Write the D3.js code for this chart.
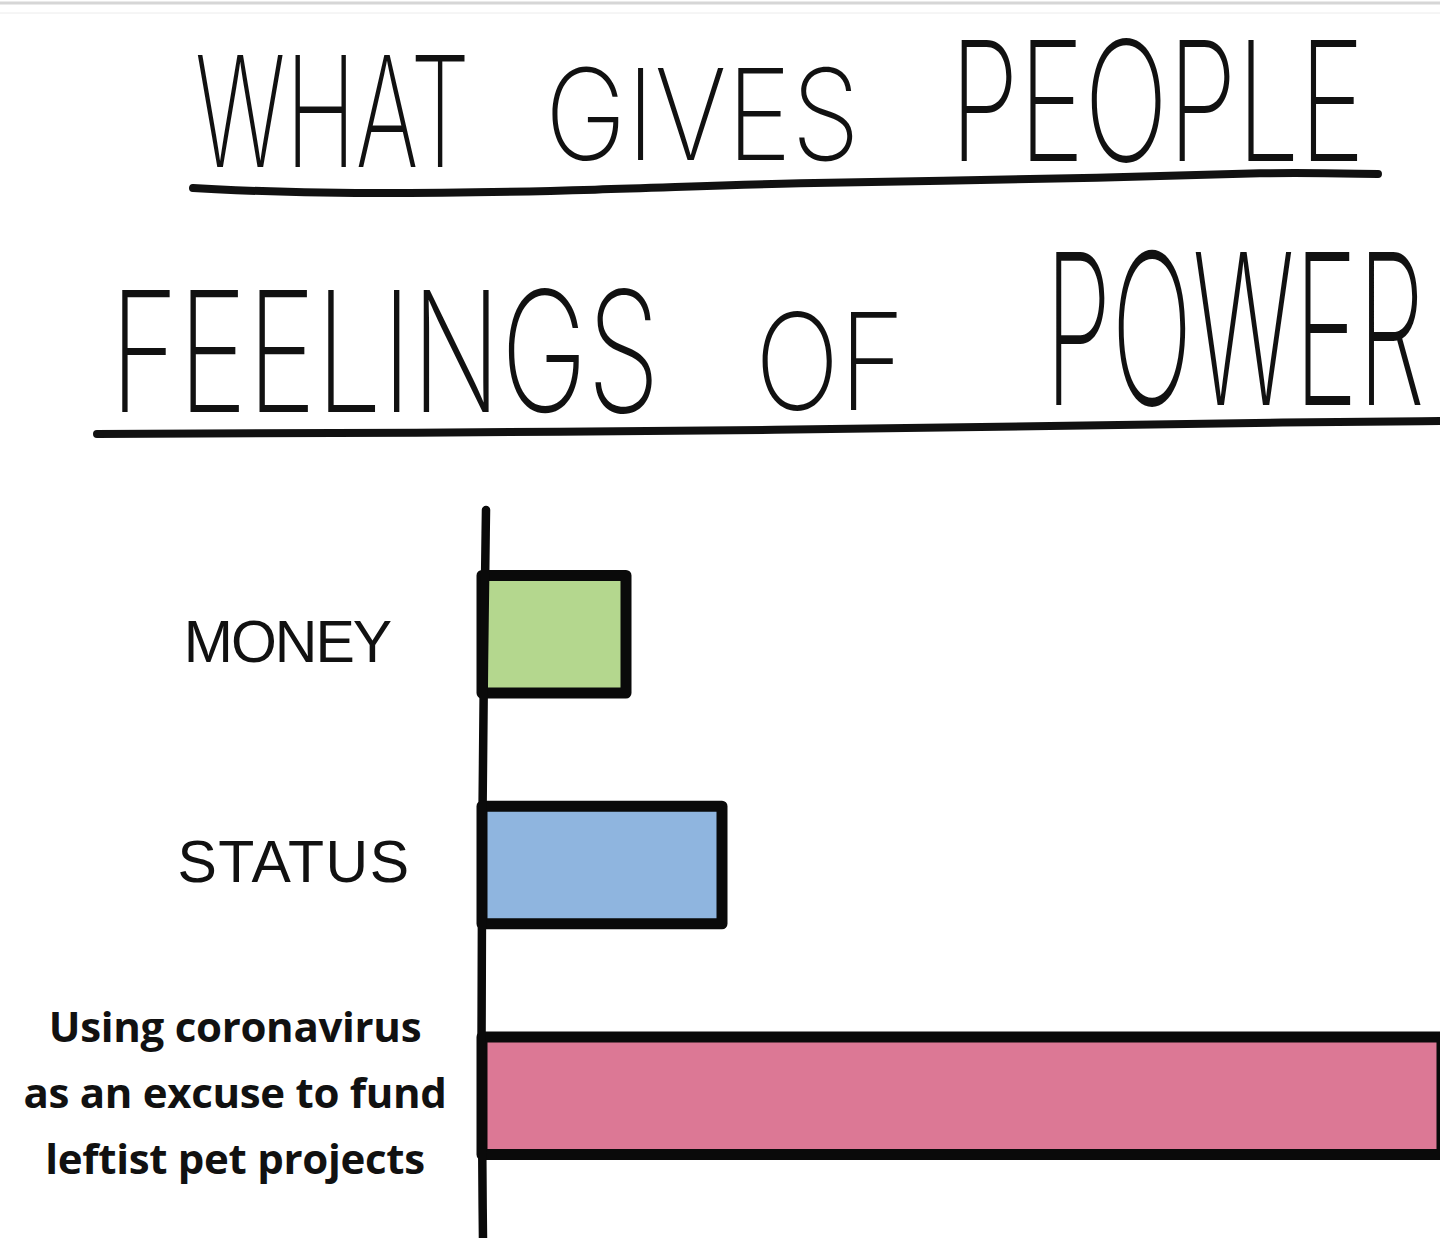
<!DOCTYPE html>
<html><head><meta charset="utf-8">
<script src="https://cdn.jsdelivr.net/npm/d3@7"></script>
<style>html,body{margin:0;padding:0;background:#fff;overflow:hidden}</style>
</head><body>
<svg id="c" width="1440" height="1238"></svg>
<script>
// ---- data ----
const titleLine1 = ["WHAT", "GIVES", "PEOPLE"];
const titleLine2 = ["FEELINGS", "OF", "POWER"];
const categories = ["MONEY", "STATUS", "Using coronavirus\nas an excuse to fund\nleftist pet projects"];
const values = [3, 5, 20];
const colors = ["#b4d78e", "#8fb5df", "#dc7895"];

const svg = d3.select("#c");
const W = 1440, H = 1238;
svg.append("rect").attr("width", W).attr("height", H).attr("fill", "#fff");

// top border lines
svg.append("line").attr("x1",0).attr("x2",W).attr("y1",3).attr("y2",3).attr("stroke","#d6d6d6").attr("stroke-width",3);
svg.append("line").attr("x1",0).attr("x2",W).attr("y1",13).attr("y2",13).attr("stroke","#ececec").attr("stroke-width",1);

// ---- title (hand-lettered look) ----
const titleFont = "Inter, 'Open Sans', 'DejaVu Sans Condensed', sans-serif";
const capRatio = 0.727;
// layout per word: [left, right, capTop, baseline]
const layout1 = [[195,470,55,167],[545,860,68,160],[950,1365,40,161]];
const layout2 = [[110,660,290,412],[755,905,312,410],[1045,1425,252,405]];
function drawWords(words, lay){
  words.forEach((w,i)=>{
    const [l,r,t,b] = lay[i];
    const txt = svg.append("text")
      .attr("x", 0).attr("y", 0)
      .attr("font-family", titleFont)
      .attr("font-weight", 250)
      .attr("font-size", (b - t) / capRatio)
      .attr("fill", "#111")
      .text(w);
    const nat = txt.node().getComputedTextLength();
    txt.attr("transform", `translate(${l},${b}) scale(${(r - l) / nat},1)`);
  });
}
drawWords(titleLine1, layout1);
drawWords(titleLine2, layout2);

const ul = d3.line().curve(d3.curveBasis);
svg.append("path")
  .attr("d", ul([[193,188],[330,195],[620,190],[760,183],[1140,178],[1260,172],[1378,174]]))
  .attr("fill","none").attr("stroke","#111").attr("stroke-width",8).attr("stroke-linecap","round");
svg.append("path")
  .attr("d", ul([[97,434],[400,433],[800,430],[1050,426],[1300,422],[1445,421]]))
  .attr("fill","none").attr("stroke","#111").attr("stroke-width",8).attr("stroke-linecap","round");

// ---- scales ----
const x = d3.scaleLinear().domain([0, 10]).range([482, 962]);
const y = d3.scaleBand().domain(categories).range([460, 1270]).paddingInner(0.49).paddingOuter(0.5);

// ---- bars ----
const sw = 11;
svg.append("g").selectAll("rect").data(categories).join("rect")
  .attr("x", x(0))
  .attr("y", d => y(d))
  .attr("width", (d,i) => x(values[i]) - x(0))
  .attr("height", y.bandwidth())
  .attr("fill", (d,i) => colors[i])
  .attr("stroke", "#0a0a0a")
  .attr("stroke-width", sw)
  .attr("stroke-linejoin", "round");

// ---- axis (vertical line) ----
const axisLine = d3.line().curve(d3.curveBasis);
svg.append("path")
  .attr("d", axisLine([[x(0)+4,510],[x(0)+2,650],[x(0),850],[x(0)-1,1050],[x(0)+1,1240]]))
  .attr("fill","none").attr("stroke","#0a0a0a").attr("stroke-width",8.5).attr("stroke-linecap","round");

// ---- category labels ----
categories.forEach((c, i) => {
  const lines = c.split("\n");
  const cy = y(c) + y.bandwidth() / 2;
  if (lines.length === 1) {
    svg.append("text")
      .attr("x", i === 0 ? 287 : 294).attr("y", cy + 20 + (i === 0 ? 8 : -3))
      .attr("text-anchor", "middle")
      .attr("font-family", "'Liberation Sans', Arial, sans-serif")
      .attr("font-size", 59)
      .attr("letter-spacing", i === 0 ? -2 : 1.5)
      .attr("fill", "#111")
      .text(c);
  } else {
    const lh = 66;
    const t = svg.append("text")
      .attr("text-anchor", "middle")
      .attr("font-family", "'Open Sans', 'Noto Sans', sans-serif")
      .attr("font-weight", 700)
      .attr("font-size", 42)
      .attr("letter-spacing", -0.3)
      .attr("fill", "#111");
    lines.forEach((ln, k) => {
      t.append("tspan").attr("x", 235).attr("y", cy + 12 + (k - (lines.length - 1) / 2) * lh).text(ln);
    });
  }
});
</script>
</body></html>
